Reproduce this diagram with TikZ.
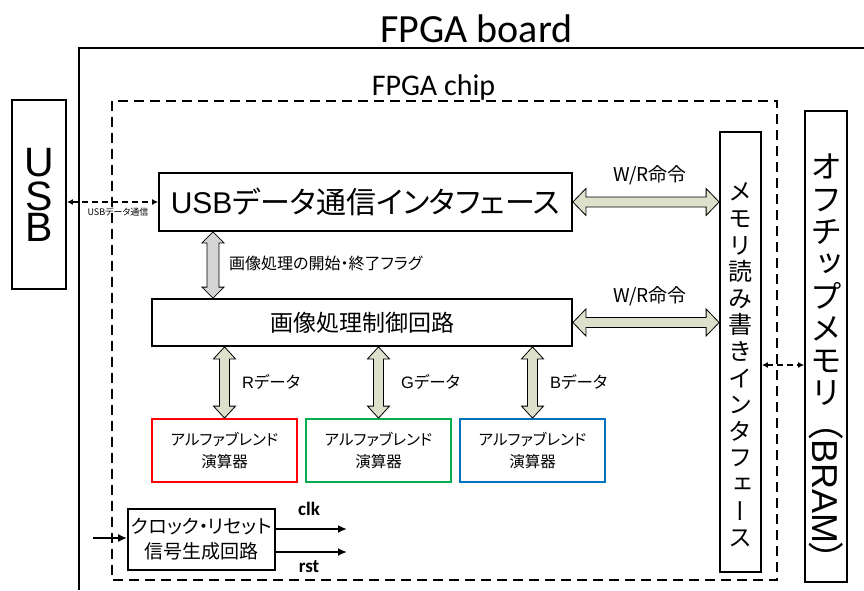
\documentclass[tikz,border=0pt]{standalone}
\usepackage{fontspec}
\setmainfont{Carlito}
\newfontfamily\cjk[RawFeature=+palt]{Noto Sans CJK JP}
\newfontfamily\cjkv[RawFeature=+vert]{Noto Sans CJK JP}
\newfontfamily\cjkfull{Noto Sans CJK JP}
\newfontfamily\arialf{Liberation Sans}
\usetikzlibrary{calc,arrows.meta}
\definecolor{olivefill}{RGB}{221,224,203}
\definecolor{grayfill}{RGB}{212,212,212}
\definecolor{abred}{RGB}{255,0,0}
\definecolor{abgreen}{RGB}{0,176,80}
\definecolor{abblue}{RGB}{0,112,192}
% horizontal fat double arrow: #1 left point, #2 right point, #3 fill, #4 half head, #5 half shaft, #6 head length
\newcommand\hfat[6]{\filldraw[fill=#3,draw=black,line width=0.8pt] let \p1=(#1),\p2=(#2) in
  (\x1,\y1) -- (\x1+#6,\y1+#4) -- (\x1+#6,\y1+#5) -- (\x2-#6,\y1+#5) -- (\x2-#6,\y1+#4) -- (\x2,\y1)
  -- (\x2-#6,\y1-#4) -- (\x2-#6,\y1-#5) -- (\x1+#6,\y1-#5) -- (\x1+#6,\y1-#4) -- cycle;}
% vertical fat double arrow: #1 top point, #2 bottom point
\newcommand\vfat[6]{\filldraw[fill=#3,draw=black,line width=0.8pt] let \p1=(#1),\p2=(#2) in
  (\x1,\y1) -- (\x1+#4,\y1-#6) -- (\x1+#5,\y1-#6) -- (\x1+#5,\y2+#6) -- (\x1+#4,\y2+#6) -- (\x1,\y2)
  -- (\x1-#4,\y2+#6) -- (\x1-#5,\y2+#6) -- (\x1-#5,\y1-#6) -- (\x1-#4,\y1-#6) -- cycle;}
\tikzset{
  box/.style={draw, line width=1.8pt, fill=white, inner sep=0pt},
  abbox/.style={draw=#1, line width=1.8pt, fill=white, inner sep=0pt, minimum width=145, minimum height=63,
    align=center, font=\cjk\fontsize{15.5}{22}\selectfont},
  dasharr/.style={line width=1.8pt, dash pattern=on 6pt off 4pt, {Latex[length=6pt,width=6pt]}-{Latex[length=6pt,width=6pt]}},
  solarr/.style={line width=1.8pt, -{Latex[length=9pt,width=8pt]}},
  lbl/.style={inner sep=0pt},
  usbletter/.style={inner sep=0pt, text height=29.5pt, text depth=0pt, font=\arialf\fontsize{41}{41}\selectfont},
}
\begin{document}
\begin{tikzpicture}[x=1pt,y=-1pt]
\useasboundingbox (0,0) rectangle (864,590);
% board
\draw[line width=1.8pt] (864,48) -- (79,48) -- (79,590);
\node[lbl, anchor=base, font=\fontsize{40}{48}\selectfont] (boardlbl) at (476.5,42) {FPGA board};
% chip
\draw[line width=1.3pt, dash pattern=on 10pt off 6pt] (112,101) rectangle (777,580);
\node[lbl, anchor=base, font=\fontsize{30}{36}\selectfont, fill=white, inner xsep=2pt] (chiplbl) at (433.5,95) {FPGA chip};

% USB
\node[box, minimum width=54, minimum height=189] (usb) at (39,194.5) {};
\node[usbletter] (usbU) at (39,162) {U};
\node[usbletter] (usbS) at (39,196) {S};
\node[usbletter] (usbB) at (39,227) {B};
% USB interface
\node[box, minimum width=413, minimum height=58, font=\cjk\fontsize{30}{36}\selectfont] (usbif) at (365.5,202) {{\arialf USB}データ通信インタフェース};
% image control
\node[box, minimum width=420, minimum height=47, font=\cjk\fontsize{23}{28}\selectfont] (imgctl) at (362,322.5) {画像処理制御回路};
% memory interface
\node[box, minimum width=41, minimum height=440] (memif) at (740.5,352) {};
\node[lbl, align=center, font=\cjkv\fontsize{24}{26.6}\selectfont] (memtxt) at (740.5,365) {メ\\モ\\リ\\読\\み\\書\\き\\イ\\ン\\タ\\フ\\ェ\\ー\\ス};
% off-chip memory
\node[box, minimum width=42, minimum height=471] (offchip) at (826,346.5) {};
\node[lbl, align=center, font=\cjkv\fontsize{32}{32.3}\selectfont] (offtxt) at (826,280) {オ\\フ\\チ\\ッ\\プ\\メ\\モ\\リ};
\node[lbl, rotate=-90, font=\cjk\fontsize{36}{40}\selectfont] (bramtxt) at (826,491) {（{\arialf BRAM}）};

% alpha blend units
\node[abbox=abred] (ab1) at (224.5,450.5) {アルファブレンド\\演算器};
\node[abbox=abgreen] (ab2) at (378.5,450.5) {アルファブレンド\\演算器};
\node[abbox=abblue] (ab3) at (532.5,450.5) {アルファブレンド\\演算器};

% clock / reset
\node[box, minimum width=147, minimum height=61, align=center, font=\cjk\fontsize{19}{25}\selectfont] (clkgen) at (201.5,539.5) {クロック・リセット\\信号生成回路};

% connectors
\draw[dasharr] (usb.east |- usbif.west) -- (usbif.west);
\node[lbl, font=\cjk\fontsize{9}{10}\selectfont] (usblbl) at (118,212) {USBデータ通信};

\coordinate (memy) at (780,365);
\draw[dasharr] (memif.east |- memy) -- (offchip.west |- memy);

\hfat{usbif.east}{memif.west |- usbif.east}{olivefill}{13.5pt}{5pt}{13pt}
\hfat{imgctl.east}{memif.west |- imgctl.east}{olivefill}{13.5pt}{5pt}{13pt}
\node[lbl, font=\cjk\fontsize{19}{22}\selectfont] (wr1) at (650,175) {W/R命令};
\node[lbl, font=\cjk\fontsize{19}{22}\selectfont] (wr2) at (650,296) {W/R命令};

\coordinate (flagx) at (213,0);
\vfat{usbif.south -| flagx}{imgctl.north -| flagx}{grayfill}{11pt}{6pt}{11pt}
\node[lbl, anchor=west, font=\cjk\fontsize{16}{20}\selectfont] (flaglbl) at (229,263) {画像処理の開始・終了フラグ};

\vfat{imgctl.south -| ab1.north}{ab1.north}{olivefill}{11pt}{5pt}{12pt}
\vfat{imgctl.south -| ab2.north}{ab2.north}{olivefill}{11pt}{5pt}{12pt}
\vfat{imgctl.south -| ab3.north}{ab3.north}{olivefill}{11pt}{5pt}{12pt}
\node[lbl, anchor=west, font=\cjk\fontsize{16.5}{20}\selectfont] (rlbl) at (242,382) {{\arialf R}データ};
\node[lbl, anchor=west, font=\cjk\fontsize{16.5}{20}\selectfont] (glbl) at (401,382) {{\arialf G}データ};
\node[lbl, anchor=west, font=\cjk\fontsize{16.5}{20}\selectfont] (blbl) at (550,382) {{\arialf B}データ};

\coordinate (clkin) at (93,538);
\draw[solarr] (clkin) -- (clkgen.west |- clkin);
\coordinate (clkout) at (347,529);
\coordinate (rstout) at (347,552);
\draw[solarr] (clkgen.east |- clkout) -- (clkout);
\draw[solarr] (clkgen.east |- rstout) -- (rstout);
\node[lbl, anchor=base, font=\bfseries\fontsize{19}{22}\selectfont] (clklbl) at (309,515) {clk};
\node[lbl, anchor=base, font=\bfseries\fontsize{19}{22}\selectfont] (rstlbl) at (309,572) {rst};
\end{tikzpicture}
\end{document}
